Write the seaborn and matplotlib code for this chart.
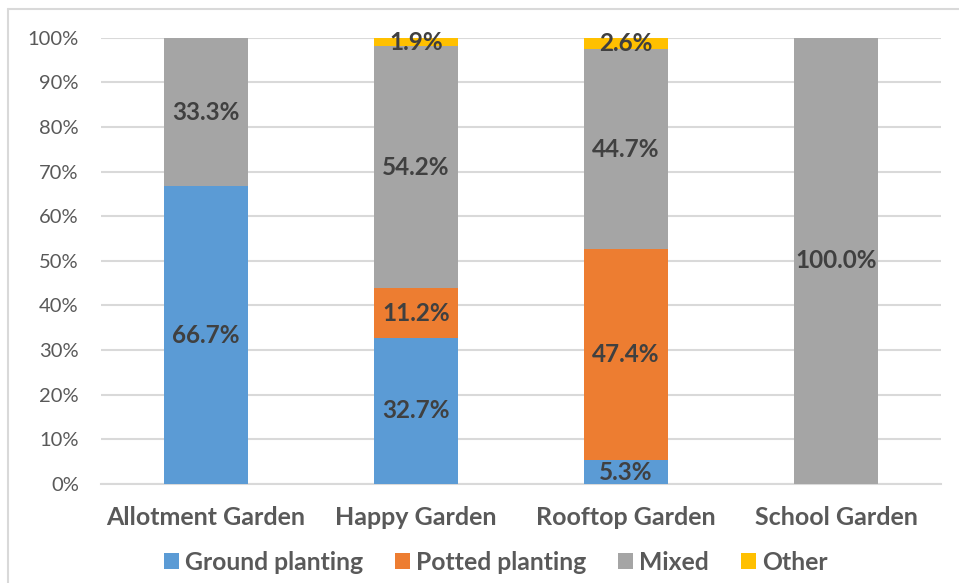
import matplotlib
matplotlib.use("Agg")
import matplotlib.pyplot as plt
from matplotlib.lines import Line2D
from matplotlib.patches import Patch
import numpy as np
import seaborn as sns

categories = ["Allotment Garden", "Happy Garden", "Rooftop Garden", "School Garden"]
series_names = ["Ground planting", "Potted planting", "Mixed", "Other"]
ground = [66.7, 32.7, 5.3, 0.0]
potted = [0.0, 11.2, 47.4, 0.0]
mixed = [33.3, 54.2, 44.7, 100.0]
other = [0.0, 1.9, 2.6, 0.0]
colors = ["#5b9bd5", "#ed7d31", "#a5a5a5", "#ffc000"]
y_ticks = [0, 10, 20, 30, 40, 50, 60, 70, 80, 90, 100]

sns.set_theme(style="white")
plt.rcParams["font.family"] = ["Lato", "DejaVu Sans"]

fig = plt.figure(figsize=(9.59, 5.83), dpi=100)
ax = fig.add_axes([0.1053, 0.170, 0.8760, 0.765])

bottom = np.zeros(len(categories))
for name, vals, col in zip(series_names, [ground, potted, mixed, other], colors):
    vals = np.array(vals)
    sns.barplot(x=categories, y=vals, bottom=bottom, color=col, width=0.4,
                ax=ax, saturation=1, zorder=3, linewidth=0)
    cont = ax.containers[-1]
    labels = [f"{v:.1f}%" if v > 0 else "" for v in vals]
    ax.bar_label(cont, labels=labels, label_type="center", fontsize=17.5,
                 fontweight="bold", color="#404040", zorder=5)
    bottom += vals

ax.set_ylim(0, 100)
ax.set_xlim(-0.5, 3.5)
ax.set_yticks(y_ticks)
ax.set_yticklabels([f"{t}%" for t in y_ticks], fontsize=14.5, color="#595959")
ax.tick_params(axis="y", length=0, pad=16)
ax.tick_params(axis="x", length=0, pad=16, labelsize=18, labelcolor="#595959")
for lab in ax.get_xticklabels():
    lab.set_fontweight("bold")
ax.yaxis.grid(True, color="#d9d9d9", linewidth=1.5, zorder=0)
ax.set_axisbelow(True)
for s in ["top", "right", "left"]:
    ax.spines[s].set_visible(False)
ax.spines["bottom"].set_color("#d9d9d9")
ax.spines["bottom"].set_linewidth(1.5)
ax.set_xlabel("")
ax.set_ylabel("")

handles = [Patch(facecolor=c, edgecolor="none") for c in colors]
leg = fig.legend(handles, series_names, loc="center", bbox_to_anchor=(0.517, 0.036),
                 ncol=4, frameon=False, handlelength=0.6, handleheight=0.6,
                 handletextpad=0.25, columnspacing=1.3,
                 prop={"weight": "bold", "size": 17.8})
for t in leg.get_texts():
    t.set_color("#595959")

# outer chart frame
fig.add_artist(Line2D([0.0085, 0.0085], [0.0, 0.985], color="#d9d9d9", lw=1.5,
                      transform=fig.transFigure))
fig.add_artist(Line2D([0.0085, 1.0], [0.985, 0.985], color="#d9d9d9", lw=1.5,
                      transform=fig.transFigure))

fig.savefig("out.png", dpi=100)
